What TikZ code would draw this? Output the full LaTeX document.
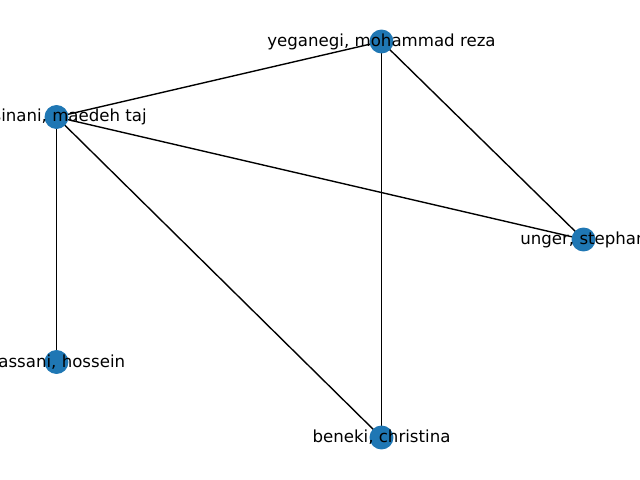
\documentclass[tikz,border=0pt]{standalone}
\usepackage{fontspec}
\setmainfont{DejaVu Sans}
\usetikzlibrary{backgrounds}
\definecolor{nodeblue}{HTML}{1F77B4}

\begin{document}
\begin{tikzpicture}[x=0.01in,y=-0.01in]
\tikzstyle{author}=[circle,fill=nodeblue,inner sep=0pt,minimum size=17.3pt]
\tikzstyle{authorname}=[inner sep=0pt,font=\fontsize{12}{14}\selectfont]
\tikzstyle{link}=[black,line width=1pt]
\useasboundingbox (0,0) rectangle (640,480);
\clip (0,0) rectangle (640,480);
% authors
\node [author] (yeganegi) at (381.5,41.5) {};
\node [author] (maedeh) at (56.5,117) {};
\node [author] (unger) at (583.5,239.5) {};
\node [author] (hossein) at (56.5,362) {};
\node [author] (beneki) at (381.5,437.5) {};
% co-authorships
\begin{pgfonlayer}{background}
\draw [link] (maedeh.center) -- (yeganegi.center);
\draw [link] (maedeh.center) -- (unger.center);
\draw [link] (maedeh.center) -- (hossein.center);
\draw [link] (maedeh.center) -- (beneki.center);
\draw [link] (yeganegi.center) -- (unger.center);
\draw [link] (yeganegi.center) -- (beneki.center);
\end{pgfonlayer}
% names
\node [authorname] at (yeganegi) {yeganegi, mohammad reza};
\node [authorname] at (maedeh) {karsinani, maedeh taj};
\node [authorname] at (unger) {unger, stephan};
\node [authorname] at (hossein) {hassani, hossein};
\node [authorname] at (beneki) {beneki, christina};
\end{tikzpicture}
\end{document}
